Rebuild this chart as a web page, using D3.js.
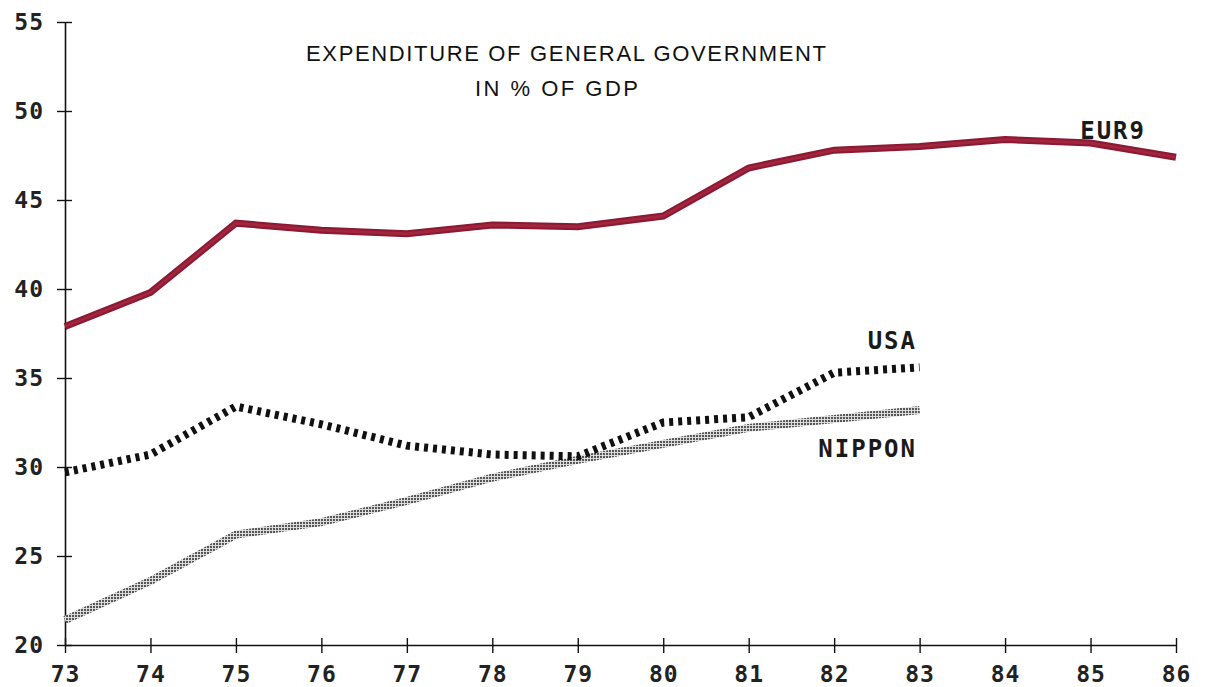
<!DOCTYPE html>
<html>
<head>
<meta charset="utf-8">
<script src="https://cdn.jsdelivr.net/npm/d3@7"></script>
<style>
  body { margin: 0; background: #fff; }
  svg { display: block; }
</style>
</head>
<body>
<div id="chart"></div>
<script>
// years on the x axis (19xx)
const years = [73, 74, 75, 76, 77, 78, 79, 80, 81, 82, 83, 84, 85, 86];
const yTicks = [20, 25, 30, 35, 40, 45, 50, 55];

// expenditure of general government, % of GDP
const eur9 = [37.9, 39.8, 43.7, 43.3, 43.1, 43.6, 43.5, 44.1, 46.8, 47.8, 48.0, 48.4, 48.2, 47.4];
const usa = [29.7, 30.7, 33.4, 32.4, 31.2, 30.7, 30.6, 32.5, 32.8, 35.3, 35.6];
const nippon = [21.4, 23.6, 26.2, 26.9, 28.1, 29.4, 30.4, 31.3, 32.2, 32.7, 33.2];

const width = 1219, height = 687;
const margin = { left: 65, right: 43, top: 22, bottom: 42 };

const svg = d3.select('#chart')
    .append('svg')
    .attr('width', width)
    .attr('height', height);

// halftone pattern for the NIPPON line
const defs = svg.append('defs');
const pat = defs.append('pattern')
    .attr('id', 'halftone')
    .attr('patternUnits', 'userSpaceOnUse')
    .attr('width', 3)
    .attr('height', 3);
pat.append('rect').attr('width', 3).attr('height', 3).attr('fill', '#dcdcdc');
pat.append('rect').attr('width', 2).attr('height', 2).attr('fill', '#555');

const x = d3.scaleLinear()
    .domain([73, 86])
    .range([margin.left, width - margin.right]);

const y = d3.scaleLinear()
    .domain([20, 55])
    .range([height - margin.bottom, margin.top]);

const tickFont = '"DejaVu Sans Mono", monospace';

// y axis, ticks crossing the line
const yAxis = svg.append('g')
    .attr('transform', `translate(${margin.left},0)`)
    .call(d3.axisLeft(y).tickValues(yTicks).tickSize(8).tickSizeOuter(0).tickPadding(13));
yAxis.select('.domain').attr('stroke', '#111').attr('stroke-width', 1.6);
yAxis.selectAll('.tick line').attr('x2', -8).attr('x1', 7).attr('stroke', '#111').attr('stroke-width', 1.4);
yAxis.selectAll('.tick text')
    .attr('font-family', tickFont)
    .attr('font-weight', 'bold')
    .attr('font-size', 23)
    .attr('letter-spacing', 1)
    .attr('fill', '#222');

// x axis
const xAxis = svg.append('g')
    .attr('transform', `translate(0,${height - margin.bottom})`)
    .call(d3.axisBottom(x).tickValues(years).tickSize(8).tickSizeOuter(0).tickPadding(13));
xAxis.select('.domain').attr('stroke', '#111').attr('stroke-width', 1.6);
xAxis.selectAll('.tick line').attr('y1', -7).attr('y2', 8).attr('stroke', '#111').attr('stroke-width', 1.4);
xAxis.selectAll('.tick text')
    .attr('font-family', tickFont)
    .attr('font-weight', 'bold')
    .attr('font-size', 23)
    .attr('letter-spacing', 1)
    .attr('fill', '#222');

const line = d3.line()
    .x((d, i) => x(years[i]))
    .y(d => y(d));

// NIPPON
svg.append('path')
    .datum(nippon)
    .attr('d', line)
    .attr('fill', 'none')
    .attr('stroke', 'url(#halftone)')
    .attr('stroke-width', 8);

// USA
svg.append('path')
    .datum(usa)
    .attr('d', line)
    .attr('fill', 'none')
    .attr('stroke', '#111')
    .attr('stroke-width', 8)
    .attr('stroke-dasharray', '4,5');

// EUR9
svg.append('path')
    .datum(eur9)
    .attr('d', line)
    .attr('fill', 'none')
    .attr('stroke', '#8c1838')
    .attr('stroke-width', 7);
svg.append('path')
    .datum(eur9)
    .attr('d', line)
    .attr('fill', 'none')
    .attr('stroke', '#b8343a')
    .attr('stroke-width', 3)
    .attr('stroke-opacity', 0.5);

// series labels
const labelFont = '"DejaVu Sans Mono", monospace';
const labels = [
    { text: 'EUR9', x: 1146, y: 139 },
    { text: 'USA', x: 917, y: 349 },
    { text: 'NIPPON', x: 917, y: 457 }
];
svg.append('g')
    .selectAll('text')
    .data(labels)
    .join('text')
    .attr('x', d => d.x)
    .attr('y', d => d.y)
    .attr('text-anchor', 'end')
    .attr('font-family', labelFont)
    .attr('font-weight', 'bold')
    .attr('font-size', 24)
    .attr('letter-spacing', 2)
    .attr('fill', '#1a1a1a')
    .text(d => d.text);

// title
svg.append('text')
    .attr('x', 306)
    .attr('y', 61)
    .attr('textLength', 520)
    .attr('lengthAdjust', 'spacing')
    .attr('font-family', '"Liberation Sans", Arial, sans-serif')
    .attr('font-size', 22)
    .attr('fill', '#111')
    .text('EXPENDITURE OF GENERAL GOVERNMENT');
svg.append('text')
    .attr('x', 475)
    .attr('y', 96)
    .attr('textLength', 163)
    .attr('lengthAdjust', 'spacing')
    .attr('font-family', '"Liberation Sans", Arial, sans-serif')
    .attr('font-size', 22)
    .attr('fill', '#111')
    .text('IN % OF GDP');
</script>
</body>
</html>
